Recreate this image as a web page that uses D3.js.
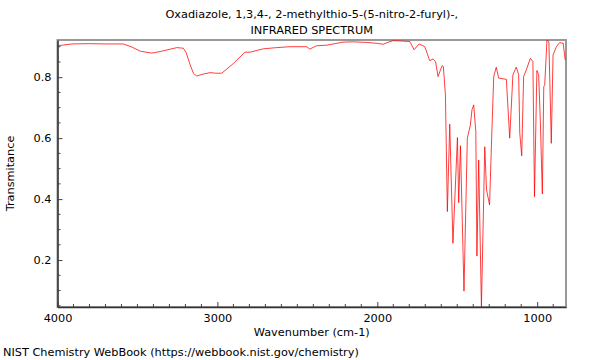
<!DOCTYPE html>
<html><head><meta charset="utf-8">
<script src="https://cdn.jsdelivr.net/npm/d3@7"></script>
<style>
body{margin:0;background:#fff;}
svg{display:block;font-family:"DejaVu Sans",sans-serif;}
</style></head>
<body><svg id="c" width="600" height="360"></svg>
<script>
const titleLines = ["Oxadiazole, 1,3,4-, 2-methylthio-5-(5-nitro-2-furyl)-,", "INFRARED SPECTRUM"];
const xLabel = "Wavenumber (cm-1)";
const yLabel = "Transmitance";
const footer = "NIST Chemistry WebBook (https://webbook.nist.gov/chemistry)";
const xTicks = [4000, 3000, 2000, 1000];
const yTicks = [0.2, 0.4, 0.6, 0.8];
const wavenumber = [4000,3910,3800,3700,3589,3540,3480,3410,3350,3254,3213,3195,3170,3150,3130,3090,3046,3010,2973,2900,2828,2796,2713,2630,2547,2442,2422,2400,2380,2317,2214,2150,2068,2000,1964,1930,1901,1860,1797,1770,1739,1703,1672,1651,1636,1620,1595,1587,1574,1562,1547,1527,1499,1491,1480,1458,1437,1418,1408,1397,1384,1377,1366,1349,1328,1317,1298,1285,1272,1256,1241,1193,1172,1152,1131,1116,1109,1097,1085,1068,1043,1027,1017,1002,991,980,968,959,953,939,927,912,901,880,859,848,838,825];
const transmittance = [0.903,0.909,0.910,0.909,0.909,0.900,0.885,0.879,0.885,0.897,0.895,0.880,0.840,0.813,0.804,0.810,0.815,0.813,0.813,0.845,0.882,0.882,0.893,0.897,0.900,0.900,0.892,0.898,0.903,0.905,0.915,0.916,0.914,0.911,0.908,0.915,0.920,0.919,0.917,0.890,0.909,0.900,0.854,0.860,0.851,0.802,0.838,0.835,0.742,0.359,0.646,0.255,0.602,0.388,0.575,0.098,0.600,0.643,0.693,0.709,0.621,0.213,0.528,0.045,0.572,0.430,0.381,0.600,0.802,0.833,0.797,0.793,0.600,0.808,0.833,0.808,0.616,0.542,0.802,0.824,0.862,0.851,0.408,0.822,0.808,0.649,0.417,0.769,0.775,0.922,0.917,0.583,0.873,0.900,0.914,0.912,0.912,0.857];

const FS = 11.3;
const svg = d3.select("#c");
const L = 57.5, R = 566, T = 40, B = 307;
const x = d3.scaleLinear().domain([4000, 820]).range([L, R]);
const y = d3.scaleLinear().domain([0.046, 0.922]).range([B, T]);

svg.selectAll("text.title").data(titleLines).enter().append("text")
  .attr("x", (L + R) / 2).attr("y", (d, i) => 18 + i * 16)
  .attr("text-anchor", "middle").attr("font-size", FS).attr("fill", "#000").text(d => d);

// frame
svg.append("rect").attr("x", L).attr("y", T).attr("width", R - L).attr("height", B - T)
  .attr("fill", "none").attr("stroke", "#999").attr("stroke-width", 2);

svg.append("clipPath").attr("id", "cp").append("rect")
  .attr("x", L).attr("y", T).attr("width", R - L).attr("height", B - T);

const pts = wavenumber.map((w, i) => [w, transmittance[i]]);
svg.append("path").attr("clip-path", "url(#cp)")
  .attr("d", d3.line().x(d => x(d[0])).y(d => y(d[1]))(pts))
  .attr("fill", "none").attr("stroke", "#ff0000").attr("stroke-width", 0.9).attr("stroke-opacity", 0.85);

// axes
const xAxis = svg.append("g").attr("transform", `translate(0,${B})`)
  .call(d3.axisBottom(x).tickValues(xTicks).tickFormat(d3.format("d")).tickSizeInner(-5).tickSizeOuter(0).tickPadding(7));
const xMinor = d3.range(3900, 820, -100).filter(v => v % 1000 !== 0);
xAxis.selectAll("line.minor").data(xMinor).enter().append("line").attr("class", "minor")
  .attr("x1", d => x(d)).attr("x2", d => x(d)).attr("y1", 0).attr("y2", -3).attr("stroke", "#444");

const yAxis = svg.append("g").attr("transform", `translate(${L},0)`)
  .call(d3.axisLeft(y).tickValues(yTicks).tickFormat(d3.format(".1f")).tickSizeInner(-5).tickSizeOuter(0).tickPadding(6));
const yMinor = d3.range(0.05, 0.921, 0.05).map(v => +v.toFixed(2)).filter(v => !yTicks.includes(v));
yAxis.selectAll("line.minor").data(yMinor).enter().append("line").attr("class", "minor")
  .attr("y1", d => y(d)).attr("y2", d => y(d)).attr("x1", 0).attr("x2", 3).attr("stroke", "#444");

[xAxis, yAxis].forEach(g => {
  g.select(".domain").attr("stroke", "#333").attr("stroke-width", 1.5);
  g.selectAll(".tick line").attr("stroke", "#444");
  g.selectAll("text").attr("font-size", FS).attr("fill", "#000").attr("font-family", "DejaVu Sans, sans-serif");
});

svg.append("text").attr("x", (L + R) / 2).attr("y", 336).attr("text-anchor", "middle")
  .attr("font-size", FS).text(xLabel);
svg.append("text").attr("transform", `translate(14,${(T + B) / 2}) rotate(-90)`)
  .attr("text-anchor", "middle").attr("font-size", FS).text(yLabel);
svg.append("text").attr("x", 3).attr("y", 356).attr("font-size", FS).text(footer);
</script></body></html>
